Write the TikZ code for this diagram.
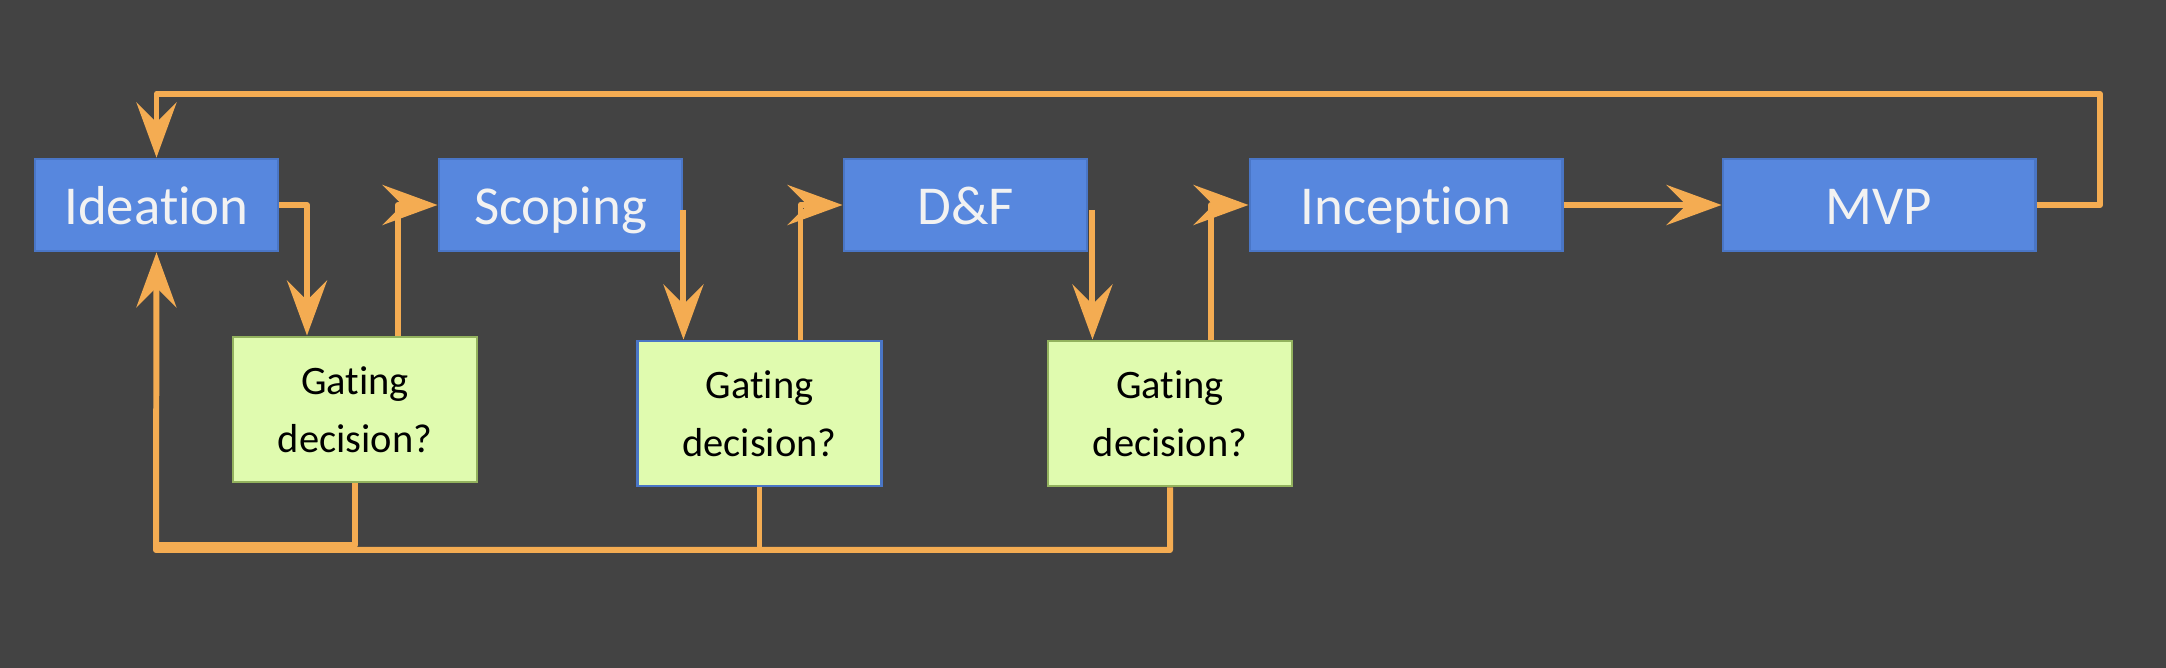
\documentclass[tikz,border=0pt]{standalone}
\usepackage{fontspec}
\setmainfont{Carlito}[Ligatures=NoCommon]
\usetikzlibrary{arrows.meta,calc}
\definecolor{bg}{HTML}{434343}
\definecolor{stagefill}{HTML}{5787DE}
\definecolor{stageline}{HTML}{4A76C6}
\definecolor{gatefill}{HTML}{E0FBAF}
\definecolor{gateline}{HTML}{93B25E}
\definecolor{flowline}{HTML}{F4AC52}

\begin{document}
\begin{tikzpicture}[
        x=0.01cm, y=-0.01cm,
        stage/.style={
        rectangle, draw=stageline, line width=0.8pt,
        fill=stagefill, text=white!95!black,
        minimum width=2.43cm, minimum height=0.92cm,
        inner sep=0pt, font=\fontsize{15.6}{18}\selectfont,
        text height=0.45cm, text depth=0.05cm},
        gate/.style={
        rectangle, draw=gateline, line width=0.8pt,
        fill=gatefill, text=black, align=center,
        minimum width=2.44cm, minimum height=1.45cm,
        inner sep=0pt, font=\fontsize{11.5}{16.4}\selectfont},
        link/.style={draw=flowline, line width=1.7pt, line join=round},
        flow/.style={link, -{Stealth[length=0.55cm, width=0.4cm, inset=0.2cm]}},
        ]

        \useasboundingbox (0,0) rectangle (2166,668);
        \fill [bg] (0,0) rectangle (2166,668);

        \node (ideation) [stage] at (156.5,205) {Ideation};
        \node (scoping) [stage] at (560.5,205) {Scoping};
        \node (df) [stage] at (965.5,205) {D\&F};
        \node (inception) [stage, minimum width=3.12cm] at (1406,205) {Inception};
        \node (mvp) [stage, minimum width=3.12cm] at (1879,205) {MVP};

        \node (gate1) [gate] at (355,409.5) {Gating\\decision?};
        \node (gate2) [gate, draw=stageline] at (759.5,413.5) {Gating\\decision?};
        \node (gate3) [gate] at (1170,413.5) {Gating\\decision?};

        \coordinate (top) at (2100,94);
        \coordinate (bottom) at (156,550);

        \draw [flow] (ideation.east) -| ($(gate1.north)+(-48,0)$);
        \draw [flow] ($(gate1.north)+(43,0)$) |- (scoping.west);
        \draw [flow] ($(scoping.east)+(0,5)$) -- (scoping.east |- gate2.north);
        \draw [flow] ($(gate2.north)+(41,0)$) |- (df.west);
        \draw [flow] ($(df.east)+(4,5)$) -- ($(df.east |- gate3.north)+(4,0)$);
        \draw [flow] ($(gate3.north)+(41,0)$) |- (inception.west);
        \draw [flow] (inception) -- (mvp);
        \draw [flow] (mvp.east) -| (top) -| (ideation.north);
        \draw [flow] (gate3.south) |- (bottom) -- (ideation.south);
        \draw [link] (gate1.south) |- ($(bottom)+(0,-5)$);
        \draw [link] (gate2.south) -- (gate2.south |- bottom);
    \end{tikzpicture}
\end{document}
